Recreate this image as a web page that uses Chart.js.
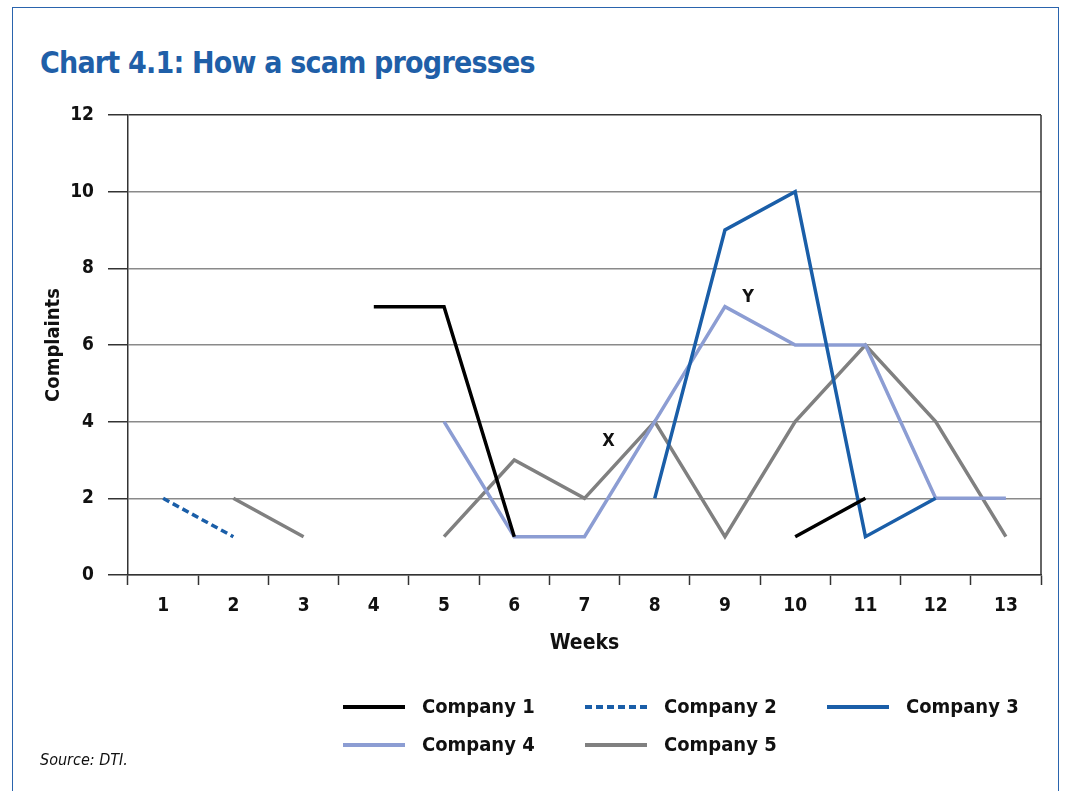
<!DOCTYPE html>
<html>
<head>
<meta charset="utf-8">
<script src="https://cdn.jsdelivr.net/npm/chart.js@4"></script>
<style>
  html, body { margin: 0; padding: 0; background: #fff; }
  body { width: 1069px; height: 791px; position: relative; overflow: hidden; }
  #frame {
    position: absolute; left: 12px; top: 7px; width: 1047px; height: 820px;
    border: 1.5px solid #2a64ad; border-bottom: none; box-sizing: border-box;
  }
  #title {
    position: absolute; left: 40px; top: 45px; margin: 0;
    font: bold 30px 'Liberation Sans Narrow', 'DejaVu Sans Condensed', Roboto, sans-serif;
    letter-spacing: -0.8px;
    color: #1f5fa8; white-space: nowrap;
  }
  #source {
    position: absolute; left: 40px; top: 750px;
    font: italic 16px 'Liberation Sans Narrow', 'DejaVu Sans Condensed', Roboto, sans-serif;
    color: #111;
  }
  #wrap { position: absolute; left: 0; top: 0; width: 1069px; height: 791px; }
</style>
</head>
<body>
<div id="frame"></div>
<h1 id="title">Chart 4.1: How a scam progresses</h1>
<div id="wrap"><canvas id="scamChart"></canvas></div>
<div id="source">Source: DTI.</div>

<script>
// --- data ---
const weeks = ['1', '2', '3', '4', '5', '6', '7', '8', '9', '10', '11', '12', '13'];

const company1 = [null, null, null, 7, 7, 1, null, null, null, 1, 2, null, null];
const company2 = [2, 1, null, null, null, null, null, null, null, null, null, null, null];
const company3 = [null, null, null, null, null, null, null, 2, 9, 10, 1, 2, null];
const company4 = [null, null, null, null, 4, 1, 1, 4, 7, 6, 6, 2, 2];
const company5 = [null, 2, 1, null, 1, 3, 2, 4, 1, 4, 6, 4, 1];

const seriesNames = ['Company 1', 'Company 2', 'Company 3', 'Company 4', 'Company 5'];

// text markers in the plot (week position, value)
const noteText = ['X', 'Y'];
const noteWeek = [7.34, 9.33];
const noteValue = [3.5, 7.25];

const FONT = "'Liberation Sans Narrow', 'DejaVu Sans Condensed', Roboto, sans-serif";
const BLUE = '#1a5ea8';

let scamChart;

// frame round the plot + the X / Y notes + the legend underneath
const extrasPlugin = {
  id: 'extras',
  afterDatasetsDraw(chart) {
    const { ctx, chartArea, scales } = chart;
    ctx.save();

    // right edge of the plot box
    ctx.strokeStyle = '#333';
    ctx.lineWidth = 1.5;
    ctx.beginPath();
    ctx.moveTo(chartArea.right, chartArea.top);
    ctx.lineTo(chartArea.right, chartArea.bottom);
    ctx.stroke();

    // notes
    ctx.fillStyle = '#111';
    ctx.font = 'bold 18px ' + FONT;
    ctx.textAlign = 'center';
    ctx.textBaseline = 'middle';
    noteText.forEach((t, i) => {
      const x = scales.x.getPixelForValue(noteWeek[i] - 1);
      const y = scales.y.getPixelForValue(noteValue[i]);
      ctx.fillText(t, x, y);
    });

    // legend, three per row
    ctx.font = 'bold 20px ' + FONT;
    ctx.textAlign = 'left';
    chart.data.datasets.forEach((ds, i) => {
      const col = i % 3;
      const row = Math.floor(i / 3);
      const x = 343 + col * 242;
      const y = 707 + row * 38;
      ctx.strokeStyle = ds.borderColor;
      ctx.lineWidth = 4;
      ctx.setLineDash(ds.borderDash || []);
      ctx.beginPath();
      ctx.moveTo(x, y);
      ctx.lineTo(x + 62, y);
      ctx.stroke();
      ctx.setLineDash([]);
      ctx.fillStyle = '#111';
      ctx.fillText(ds.label, x + 79, y + 1);
    });

    ctx.restore();
  }
};

document.addEventListener('DOMContentLoaded', () => {
  const ctx = document.getElementById('scamChart');

  const lineDefaults = { borderWidth: 3.5, pointRadius: 0, tension: 0, fill: false };

  const data = {
    labels: weeks,
    datasets: [
      { ...lineDefaults, label: seriesNames[0], data: company1, borderColor: '#000000' },
      { ...lineDefaults, label: seriesNames[1], data: company2, borderColor: BLUE, borderDash: [7, 4] },
      { ...lineDefaults, label: seriesNames[2], data: company3, borderColor: BLUE },
      { ...lineDefaults, label: seriesNames[3], data: company4, borderColor: '#8c9dd3' },
      { ...lineDefaults, label: seriesNames[4], data: company5, borderColor: '#808080' }
    ]
  };

  scamChart = new Chart(ctx, {
    type: 'line',
    data: data,
    plugins: [extrasPlugin],
    options: {
      responsive: true,
      maintainAspectRatio: false,
      animation: false,
      layout: { padding: { left: 40, right: 28, top: 115, bottom: 131 } },
      plugins: {
        legend: { display: false },
        tooltip: { enabled: false }
      },
      scales: {
        x: {
          offset: true,
          afterFit: (scale) => { scale.height = 85; },
          grid: {
            offset: true,
            drawOnChartArea: false,
            drawTicks: true,
            tickLength: 10,
            tickColor: '#333',
            tickWidth: 1.5
          },
          border: { color: '#333', width: 1.5 },
          ticks: {
            color: '#111',
            padding: 10,
            font: { family: FONT, size: 19, weight: 'bold' }
          },
          title: {
            display: true,
            text: 'Weeks',
            color: '#111',
            padding: { top: 0, bottom: 4 },
            font: { family: FONT, size: 21, weight: 'bold' }
          }
        },
        y: {
          min: 0,
          max: 12,
          afterFit: (scale) => { scale.width = 88; },
          grid: {
            color: (c) => (c.tick && c.tick.value === 12 ? '#333' : '#8a8a8a'),
            lineWidth: 1.5,
            tickLength: 20,
            tickColor: '#333',
            tickWidth: 1.5
          },
          border: { color: '#333', width: 1.5 },
          ticks: {
            stepSize: 2,
            color: '#111',
            padding: 14,
            font: { family: FONT, size: 19, weight: 'bold' }
          },
          title: {
            display: true,
            text: 'Complaints',
            color: '#111',
            padding: { top: 2, bottom: 0 },
            font: { family: FONT, size: 20, weight: 'bold' }
          }
        }
      }
    }
  });
});
</script>
</body>
</html>
